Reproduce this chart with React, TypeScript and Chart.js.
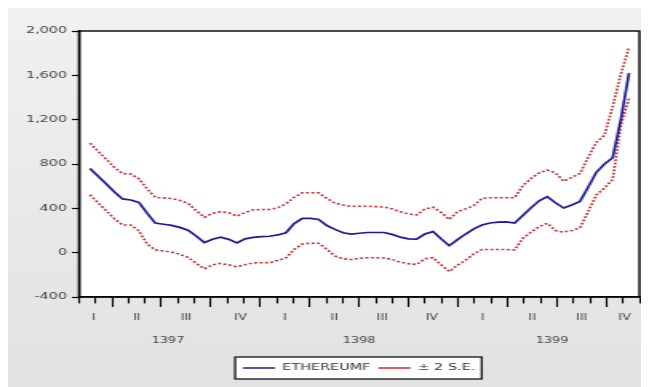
import React, { useEffect, useRef } from "react";
import { Chart, registerables } from "chart.js";

Chart.register(...registerables);

// ---- data ----
const forecast = [760, 689, 619, 547, 485, 475, 453, 356, 267, 256, 246, 228, 203, 150, 91, 121, 139, 120, 88, 125, 138, 145, 148, 160, 180, 262, 309, 309, 300, 245, 210, 180, 168, 175, 182, 182, 182, 165, 140, 124, 122, 168, 190, 125, 63, 118, 168, 215, 250, 268, 275, 277, 267, 335, 405, 468, 505, 450, 403, 430, 463, 590, 725, 800, 857, 1200, 1620];
const upperBand = [988, 915, 842, 768, 714, 710, 667, 575, 500, 494, 489, 472, 445, 380, 319, 355, 370, 360, 330, 362, 387, 389, 390, 405, 441, 500, 540, 540, 540, 490, 447, 430, 418, 419, 419, 415, 412, 395, 370, 350, 340, 395, 410, 365, 300, 370, 395, 425, 490, 496, 496, 496, 496, 605, 670, 720, 745, 720, 645, 680, 715, 860, 995, 1060, 1320, 1610, 1854];
const lowerBand = [523, 450, 378, 305, 250, 250, 197, 78, 25, 15, 5, -15, -42, -95, -146, -110, -97, -110, -127, -108, -92, -91, -90, -70, -48, 30, 78, 85, 85, 31, -30, -55, -62, -50, -46, -46, -48, -62, -85, -100, -106, -55, -45, -110, -170, -112, -68, -10, 28, 28, 28, 28, 25, 130, 185, 235, 265, 200, 185, 200, 225, 370, 520, 585, 660, 1150, 1390];

// time axis in months (1 tick per month); observations are roughly half-monthly
const FIRST_OBS_MONTH = 0.663;
const MONTHS_PER_OBS = 0.4955;
const AXIS_MONTHS = 34;

const quarterLabels = ["I", "II", "III", "IV", "I", "II", "III", "IV", "I", "II", "III", "IV"];
const quarterPositions = [0.9, 3.5, 6.5, 9.8, 12.5, 15.5, 18.4, 21.4, 24.5, 27.5, 30.5, 33.1];
const quarterBoundaries = [2, 5, 8, 11, 14, 17, 20, 23, 26, 29, 32];
const yearLabels = ["1397", "1398", "1399"];
const yearPositions = [5.4, 17.0, 28.7];
const yTicks = [-400, 0, 400, 800, 1200, 1600, 2000];

const seriesName = "ETHEREUMF";
const bandName = "± 2 S.E.";

const FONT = "'DejaVu Sans', sans-serif";

export default function App() {
  const ref = useRef<HTMLCanvasElement | null>(null);

  useEffect(() => {
    if (!ref.current) return;
    const toXY = (arr: number[]) => arr.map((v, i) => ({ x: FIRST_OBS_MONTH + i * MONTHS_PER_OBS, y: v }));

    const monthTicks: number[] = [];
    for (let m = 0; m <= AXIS_MONTHS; m++) monthTicks.push(m);
    const qMap = new Map<number, string>();
    quarterPositions.forEach((p, i) => qMap.set(p, quarterLabels[i]));
    const yMap = new Map<number, string>();
    yearPositions.forEach((p, i) => yMap.set(p, yearLabels[i]));
    const boundarySet = new Set<number>(quarterBoundaries);
    const xTickValues = [...monthTicks, ...quarterPositions].sort((a, b) => a - b);

    const decor = {
      id: "decor",
      beforeDraw(chart: any) {
        const { ctx, width, height, chartArea } = chart;
        ctx.save();
        const g = ctx.createLinearGradient(0, 0, 0, height);
        g.addColorStop(0, "#f1f1f1");
        g.addColorStop(1, "#e2e2e2");
        ctx.fillStyle = g;
        ctx.fillRect(0, 0, width, height);
        ctx.fillStyle = "#ffffff";
        ctx.fillRect(chartArea.left, chartArea.top, chartArea.right - chartArea.left, chartArea.bottom - chartArea.top);
        const boxes = chart.legend && chart.legend.legendHitBoxes;
        if (boxes && boxes.length) {
          const l = Math.min(...boxes.map((b: any) => b.left)) - 5;
          const r = Math.max(...boxes.map((b: any) => b.left + b.width)) + 4;
          const cy = boxes[0].top + boxes[0].height / 2;
          ctx.fillStyle = "#ffffff";
          ctx.fillRect(l, cy - 11, r - l, 22);
          ctx.strokeStyle = "#000";
          ctx.lineWidth = 1.2;
          ctx.strokeRect(l, cy - 11, r - l, 22);
        }
        ctx.restore();
      },
      afterDraw(chart: any) {
        const { ctx, chartArea } = chart;
        ctx.save();
        ctx.strokeStyle = "#000";
        ctx.lineWidth = 1.4;
        ctx.strokeRect(chartArea.left, chartArea.top, chartArea.right - chartArea.left, chartArea.bottom - chartArea.top);
        ctx.restore();
      },
    };

    const chart = new Chart(ref.current, {
      type: "line",
      data: {
        datasets: [
          {
            label: seriesName,
            data: toXY(forecast),
            borderColor: "rgb(28,28,150)",
            borderWidth: 1.7,
            pointRadius: 0,
            tension: 0,
            xAxisID: "x",
            yAxisID: "y",
          },
          {
            label: bandName,
            data: toXY(upperBand),
            borderColor: "rgb(200,40,40)",
            borderWidth: 1.6,
            borderDash: [1.8, 1.6],
            pointRadius: 0,
            tension: 0,
            xAxisID: "x",
            yAxisID: "y",
          },
          {
            label: bandName + " (lower)",
            data: toXY(lowerBand),
            borderColor: "rgb(200,40,40)",
            borderWidth: 1.6,
            borderDash: [1.8, 1.6],
            pointRadius: 0,
            tension: 0,
            xAxisID: "x",
            yAxisID: "y",
          },
        ],
      },
      options: {
        responsive: false,
        maintainAspectRatio: false,
        animation: false,
        devicePixelRatio: 1,
        font: { family: FONT },
        layout: { padding: { top: 23, right: 3.8, bottom: 4.5, left: 0 } },
        plugins: {
          tooltip: { enabled: false },
          legend: {
            display: true,
            position: "bottom",
            fullSize: false,
            labels: {
              usePointStyle: true,
              pointStyle: "line",
              pointStyleWidth: 20,
              padding: 5,
              color: "#333",
              font: { family: FONT, size: 9 },
              filter: (item: any) => item.datasetIndex !== 2,
            },
          },
        },
        scales: {
          x: {
            type: "linear",
            position: "bottom",
            min: 0,
            max: AXIS_MONTHS,
            afterBuildTicks: (s: any) => {
              s.ticks = xTickValues.map((v) => ({ value: v }));
            },
            afterFit: (s: any) => {
              s.height = 24;
            },
            ticks: {
              autoSkip: false,
              maxRotation: 0,
              minRotation: 0,
              padding: 6,
              color: "#444",
              font: { family: FONT, size: 8 },
              callback: (v: any) => qMap.get(v) ?? "",
            },
            grid: {
              drawOnChartArea: false,
              drawTicks: true,
              tickLength: 10,
              tickWidth: 1.1,
              tickColor: (c: any) => (c.tick && qMap.has(c.tick.value) ? "rgba(0,0,0,0)" : "#000"),
              tickBorderDash: (c: any) => (c.tick && boundarySet.has(c.tick.value) ? [] : [6, 30]),
            },
            border: { display: true, color: "#000", width: 1.4 },
          },
          x2: {
            type: "linear",
            position: "bottom",
            min: 0,
            max: AXIS_MONTHS,
            afterBuildTicks: (s: any) => {
              s.ticks = yearPositions.map((v) => ({ value: v }));
            },
            afterFit: (s: any) => {
              s.height = 37.5;
            },
            ticks: {
              autoSkip: false,
              maxRotation: 0,
              minRotation: 0,
              padding: 15,
              color: "#444",
              font: { family: FONT, size: 8 },
              callback: (v: any) => yMap.get(v) ?? "",
            },
            grid: { display: false, drawTicks: false },
            border: { display: false },
          },
          y: {
            type: "linear",
            min: -400,
            max: 2000,
            afterBuildTicks: (s: any) => {
              s.ticks = yTicks.map((v) => ({ value: v }));
            },
            afterFit: (s: any) => {
              s.width = 44.4;
            },
            ticks: {
              padding: 3,
              color: "#444",
              font: { family: FONT, size: 9 },
              callback: (v: any) => Number(v).toLocaleString("en-US"),
            },
            grid: { drawOnChartArea: false, tickLength: 4.4, tickWidth: 1.2, tickColor: "#000" },
            border: { display: true, color: "#000", width: 1.4 },
          },
        },
      } as any,
      plugins: [decor],
    });
    return () => chart.destroy();
  }, []);

  return (
    <div style={{ width: 641, height: 379 }}>
      <canvas ref={ref} width={401} height={379} style={{ width: "641px", height: "379px", display: "block" }} />
    </div>
  );
}
